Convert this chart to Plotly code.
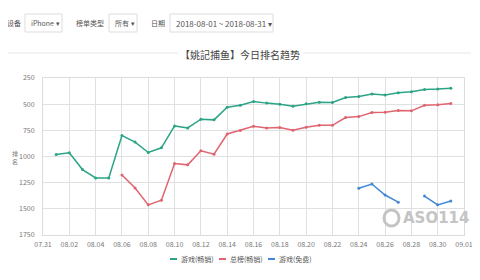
import plotly.graph_objects as go

dates = ["2018-08-%02d" % d for d in range(1, 32)]

game_paid = [980, 965, 1125, 1205, 1205, 800, 862, 962, 917, 708, 727, 644, 650, 529, 510,
             474, 490, 500, 519, 497, 481, 484, 436, 426, 404, 413, 391, 381, 359, 356, 349]

total_paid = [None, None, None, None, None, 1176, 1301, 1462, 1417, 1067, 1080, 945, 978, 785, 752,
              712, 727, 724, 750, 721, 702, 702, 628, 619, 580, 577, 561, 564, 510, 506, 494]

game_free = [None] * 23 + [1304, 1263, 1368, 1436, None, 1378, 1462, 1426]

series_names = ["游戏(畅销)", "总榜(畅销)", "游戏(免费)"]
series_colors = ["#2ba487", "#e0646f", "#4189d6"]
y_ticks = [250, 500, 750, 1000, 1250, 1500, 1750]

font = "Noto Sans CJK SC"

# page body has an 8px margin; figure sized to fit inside the 480x280 window
OFF = 8
W, H = 464, 264
# plot area in window pixels: x 43..464, y 78..235
PX0, PX1, PY0, PY1 = 43, 464, 78, 235
L, R, T, B = PX0 - OFF, W - (PX1 - OFF), PY0 - OFF, H - (PY1 - OFF)

fig = go.Figure()
for name, vals, col in zip(series_names, [game_paid, total_paid, game_free], series_colors):
    fig.add_trace(go.Scatter(
        x=dates, y=vals, name=name, mode="lines+markers",
        line=dict(color=col, width=1.5), marker=dict(color=col, size=3),
        connectgaps=False, showlegend=False,
    ))


def px_x(px):
    return (px - PX0) / (PX1 - PX0)


def px_y(py):
    return (PY1 - py) / (PY1 - PY0)


fig.update_layout(
    width=W, height=H,
    margin=dict(l=L, r=R, t=T, b=B, autoexpand=False),
    paper_bgcolor="white", plot_bgcolor="white",
    font=dict(family=font, size=7, color="#666"),
    showlegend=False,
    xaxis=dict(
        type="date", range=["2018-07-31", "2018-09-01"],
        tick0="2018-07-31", dtick=2 * 86400000, tickformat="%m.%d",
        showgrid=True, gridcolor="#e0e0e0", gridwidth=1,
        showline=True, linecolor="#dcdcdc", mirror=True,
        ticks="", tickfont=dict(size=7, color="#777"),
        ticklabelstandoff=3, ticklabeloverflow="allow",
        zeroline=False,
    ),
    yaxis=dict(
        range=[1750, 250], tickvals=y_ticks, ticktext=[str(v) for v in y_ticks],
        showgrid=True, gridcolor="#e0e0e0", gridwidth=1,
        showline=True, linecolor="#dcdcdc", mirror=True,
        ticks="", tickfont=dict(size=7, color="#777"),
        ticklabelstandoff=6,
        zeroline=False,
    ),
)


def label(text, x, y, size=7, color="#555", xanchor="left", family=font):
    return dict(text=text, x=px_x(x), y=px_y(y), xref="paper", yref="paper",
                xanchor=xanchor, yanchor="middle", showarrow=False,
                font=dict(size=size, color=color, family=family))


annotations = [
    label("【姚記捕鱼】今日排名趋势", 240, 54, size=10, color="#444", xanchor="center"),
    label("设备", 5, 23),
    label("iPhone ▾", 29, 23),
    label("榜单类型", 74, 23),
    label("所有 ▾", 113, 23),
    label("日期", 149, 23),
    label("2018-08-01 ~ 2018-08-31 ▾", 174, 23, size=8),
    label("排<br>名", 15, 157, size=6, color="#777", xanchor="center"),
    label("<b>ASO114</b>", 401, 218, size=15, color="#c4c4c4", family="DejaVu Sans"),
]

shapes = [
    dict(type="line", xref="paper", yref="paper", x0=px_x(5), x1=px_x(178), y0=px_y(53), y1=px_y(53),
         line=dict(color="#e6e6e6", width=1)),
    dict(type="line", xref="paper", yref="paper", x0=px_x(303), x1=px_x(471), y0=px_y(53), y1=px_y(53),
         line=dict(color="#e6e6e6", width=1)),
    dict(type="rect", xref="paper", yref="paper", x0=px_x(25), x1=px_x(62), y0=px_y(14), y1=px_y(32),
         line=dict(color="#dddddd", width=1), fillcolor="rgba(0,0,0,0)"),
    dict(type="rect", xref="paper", yref="paper", x0=px_x(109), x1=px_x(137), y0=px_y(14), y1=px_y(32),
         line=dict(color="#dddddd", width=1), fillcolor="rgba(0,0,0,0)"),
    dict(type="rect", xref="paper", yref="paper", x0=px_x(170), x1=px_x(273), y0=px_y(14), y1=px_y(32),
         line=dict(color="#dddddd", width=1), fillcolor="rgba(0,0,0,0)"),
    dict(type="circle", xref="paper", yref="paper", x0=px_x(384), x1=px_x(399), y0=px_y(210), y1=px_y(226),
         line=dict(color="#c4c4c4", width=3), fillcolor="rgba(0,0,0,0)"),
]

# custom legend (short line swatches)
legend_x = [170, 219, 268]
for name, col, lx in zip(series_names, series_colors, legend_x):
    shapes.append(dict(type="line", xref="paper", yref="paper", x0=px_x(lx), x1=px_x(lx + 7),
                       y0=px_y(259), y1=px_y(259), line=dict(color=col, width=2)))
    annotations.append(label(name, lx + 9, 259, size=7, color="#555"))

fig.update_layout(annotations=annotations, shapes=shapes)
fig.write_html("out.html")
